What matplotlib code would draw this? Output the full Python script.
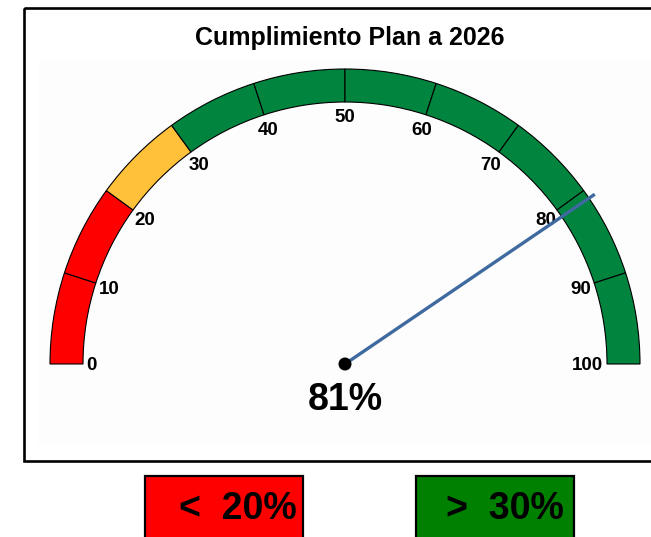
import numpy as np
import matplotlib
matplotlib.use("Agg")
import matplotlib.pyplot as plt
from matplotlib.patches import Wedge, Rectangle, Circle

# ---- data ----
title = "Cumplimiento Plan a 2026"
value = 81
band_edges = [0, 20, 30, 100]
band_colors = ["#FF0000", "#FFC03A", "#00843E"]
tick_values = [0, 10, 20, 30, 40, 50, 60, 70, 80, 90, 100]
legend_labels = ["<  20%", ">  30%"]
legend_colors = ["#FF0000", "#008000"]

W, H = 651, 537
fig = plt.figure(figsize=(W / 100, H / 100), dpi=100)
ax = fig.add_axes([0, 0, 1, 1])
ax.set_xlim(0, W)
ax.set_ylim(H, 0)
ax.set_aspect("equal")
ax.axis("off")

FONT = "Liberation Sans"

# frame + faint plot area
ax.add_patch(Rectangle((38, 60), 640, 385, facecolor="#FDFDFD", edgecolor="none", zorder=0))
ax.add_patch(Rectangle((24, 8), 700, 453, facecolor="none", edgecolor="black", lw=1.9, zorder=1))

ax.text(350, 45, title, ha="center", va="baseline", fontsize=18, fontweight="bold",
        family=FONT, zorder=5)

cx, cy = 345, 364
r_out, r_in = 295, 262


def ang(v):
    return 180 - v / 100 * 180


# bands: draw per 10-unit segment with black edges
for lo, hi, col in zip(band_edges[:-1], band_edges[1:], band_colors):
    segs = list(range(lo, hi, 10)) + [hi]
    for a, b in zip(segs[:-1], segs[1:]):
        w = Wedge((cx, cy), r_out, -ang(a), -ang(b), width=r_out - r_in,
                  facecolor=col, edgecolor="black", lw=0.8, zorder=2)
        ax.add_patch(w)

# tick labels
for t in tick_values:
    th = np.radians(ang(t))
    if t == 0:
        r = 254
    elif t == 100:
        r = 242
    else:
        r = 248
    x = cx + r * np.cos(th)
    y = cy - r * np.sin(th) + 2
    ax.text(x, y, str(t), ha="center", va="center", fontsize=13.5, fontweight="bold",
            family=FONT, zorder=5)

# needle
th = np.radians(ang(value))
L = 302
ax.plot([cx, cx + L * np.cos(th)], [cy, cy - L * np.sin(th)], color="#3E6A9F",
        lw=2.4, solid_capstyle="butt", zorder=6)
ax.add_patch(Circle((cx, cy), 6.5, facecolor="black", edgecolor="none", zorder=7))

ax.text(cx, 400, f"{value}%", ha="center", va="center", fontsize=27, fontweight="bold",
        family=FONT, zorder=5)

# legend boxes
box_x = [145, 416]
text_dx = [93, 89]
for bx, dx, lab, col in zip(box_x, text_dx, legend_labels, legend_colors):
    ax.add_patch(Rectangle((bx, 476), 158, 80, facecolor=col, edgecolor="black",
                           lw=1.6, zorder=3))
    ax.text(bx + dx, 509, lab, ha="center", va="center", fontsize=27,
            fontweight="bold", family=FONT, zorder=5)

fig.savefig("out.png", dpi=100)
